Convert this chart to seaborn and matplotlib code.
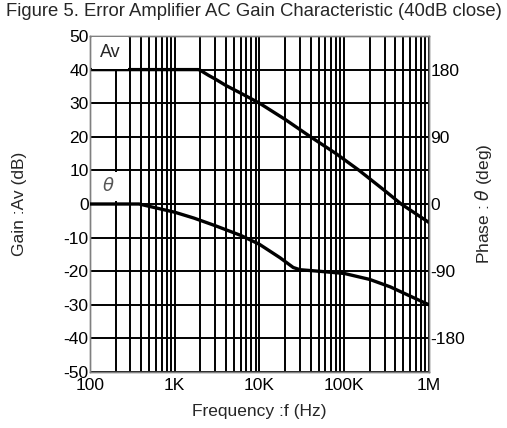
import matplotlib
matplotlib.use("Agg")
import matplotlib.pyplot as plt
import seaborn as sns
import pandas as pd
import numpy as np
from matplotlib.ticker import LogLocator, NullFormatter

sns.set_style("white")
plt.rcParams['font.family'] = ['Liberation Sans', 'DejaVu Sans']
plt.rcParams['axes.unicode_minus'] = False

# Data
gain_freq = [100, 1900, 2000, 2500, 3000, 4000, 6000, 10000, 20000, 40000, 80000, 150000, 300000, 470000, 1000000]
gain_db = [40, 40, 39.8, 38.3, 37.2, 35.3, 33.0, 30.0, 25.2, 20.0, 15.0, 10.0, 4.0, 0.0, -5.5]

phase_freq = [100, 380, 1000, 1700, 3000, 6000, 10000, 17500, 25000, 30000, 50000, 100000, 200000, 350000, 1000000]
phase_deg = [0, 0, -11, -19, -29, -42, -54, -72, -85, -88, -90, -93, -101, -111, -135]

xtick_vals = [100, 1000, 10000, 100000, 1000000]
xtick_labels = ["100", "1K", "10K", "100K", "1M"]
gain_ticks = [-50, -40, -30, -20, -10, 0, 10, 20, 30, 40, 50]
phase_ticks = [-180, -90, 0, 90, 180]

gain_df = pd.DataFrame({"freq": gain_freq, "gain": gain_db})
phase_df = pd.DataFrame({"freq": phase_freq, "phase": phase_deg})

fig = plt.figure(figsize=(5.07, 4.28), dpi=100)
ax = fig.add_axes([0.1775, 0.1308, 0.6686, 0.7851])
ax2 = ax.twinx()

ax.set_xscale("log")
ax.set_xlim(100, 1e6)
ax.set_ylim(-50, 50)
ax2.set_ylim(-225, 225)

ax.set_xticks(xtick_vals)
ax.set_xticklabels(xtick_labels)
ax.xaxis.set_minor_locator(LogLocator(base=10, subs=np.arange(2, 10), numticks=20))
ax.xaxis.set_minor_formatter(NullFormatter())
ax.set_yticks(gain_ticks)
ax2.set_yticks(phase_ticks)

ax.grid(True, which="both", axis="x", color="black", linewidth=1.4)
ax.grid(True, which="major", axis="y", color="black", linewidth=1.4)
ax.set_axisbelow(True)

sns.lineplot(data=gain_df, x="freq", y="gain", ax=ax, color="black", linewidth=2.4, zorder=3)
sns.lineplot(data=phase_df, x="freq", y="phase", ax=ax2, color="black", linewidth=2.4, zorder=3)

for a in (ax, ax2):
    a.tick_params(axis="both", which="both", length=0, labelsize=12.5, pad=1, colors="black")
    for s in a.spines.values():
        s.set_color("#808080")
        s.set_linewidth(1.0)
ax.tick_params(axis="x", pad=4.5)

ax.set_xlabel("Frequency :f (Hz)", fontsize=12.5, labelpad=8)
ax.set_ylabel("Gain :Av (dB)", fontsize=12.5, labelpad=26)
ax2.set_ylabel("Phase : $\\theta$ (deg)", fontsize=12.5, labelpad=6)

# Series labels drawn on the top axes so their white boxes cover the grid
ax2.text(172, 45.0, "Av", transform=ax.transData, fontsize=13, ha="center", va="center", zorder=6,
         bbox=dict(boxstyle="square,pad=0.42", facecolor="white", edgecolor="none"))
ax2.text(163, 5.3, "$\\theta$", transform=ax.transData, fontsize=13, ha="center", va="center",
         color="#555555", zorder=6,
         bbox=dict(boxstyle="square,pad=0.3", facecolor="white", edgecolor="none"))

fig.text(0.5, 0.972, "Figure 5. Error Amplifier AC Gain Characteristic (40dB close)",
         ha="center", va="center", fontsize=13.3)

fig.savefig("out.png", dpi=100)
